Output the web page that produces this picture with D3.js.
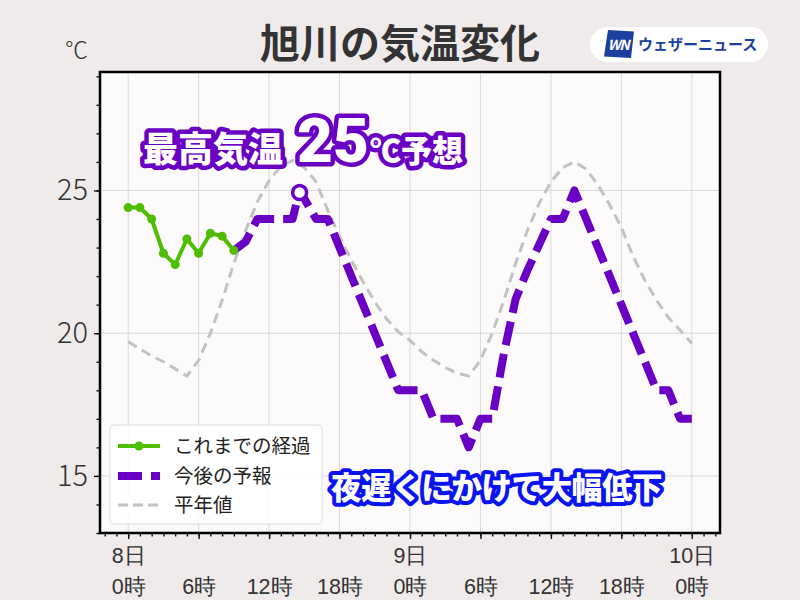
<!DOCTYPE html>
<html>
<head>
<meta charset="utf-8">
<script src="https://cdn.jsdelivr.net/npm/d3@7"></script>
<style>
  html, body { margin: 0; padding: 0; background: #eeebea; }
  body { font-family: "Noto Sans CJK JP", "Noto Sans", sans-serif; }
  .axis path.domain { display: none; }
</style>
</head>
<body>
<div id="chart"></div>
<script>
// observed (hourly, 8日0時 = hour 0)
var obsHours = [0, 1, 2, 3, 4, 5, 6, 7, 8, 9];
var obsTemps = [24.4, 24.4, 24.0, 22.8, 22.4, 23.3, 22.8, 23.5, 23.4, 22.9];

// forecast
var fcHours = [9, 10, 11, 12, 13, 14, 14.6, 16, 17, 18, 19, 20, 21, 22, 23, 24, 25, 26, 27, 28,
  29, 30, 31, 32, 33, 34, 35, 36, 37, 38, 39, 40, 41, 42, 43, 44, 45, 46, 47, 48];
var fcTemps = [22.9, 23.2, 24, 24, 24, 24, 25, 24, 24, 23, 22, 21, 20, 19, 18, 18, 18, 17, 17, 17,
  16, 17, 17, 19.3, 21.2, 22.2, 23.1, 24, 24, 25, 24, 23, 22, 21, 20, 19, 18, 18, 17, 17];

// normal (平年値), hourly 0..48
var normHours = d3.range(0, 49);
var normTemps = [19.7, 19.45, 19.2, 19.0, 18.75, 18.5, 19.05, 20.0, 21.15, 22.45,
  23.6, 24.6, 25.35, 25.85, 26.05, 25.8, 25.3, 24.3, 23.4, 22.55,
  21.8, 21.1, 20.5, 20.05, 19.75, 19.35, 19.05, 18.8, 18.6, 18.5,
  19.05, 20.0, 21.15, 22.45, 23.6, 24.55, 25.3, 25.8, 26.0, 25.75,
  25.2, 24.5, 23.7, 22.7, 21.85, 21.15, 20.55, 20.1, 19.65];

var xTickHours = [0, 6, 12, 18, 24, 30, 36, 42, 48];
var xTickDays = ['8日', '', '', '', '9日', '', '', '', '10日'];
var xTickTimes = ['0時', '6時', '12時', '18時', '0時', '6時', '12時', '18時', '0時'];
var yTicks = [15, 20, 25];
var legendLabels = ['これまでの経過', '今後の予報', '平年値'];

var colors = { obs: '#4fbd00', fc: '#6a00c4', norm: '#c2c2c2' };

var margin = { top: 72, left: 100 };
var width = 620, height = 461;

var root = d3.select('#chart').append('svg')
  .attr('width', 800)
  .attr('height', 600)
  .style('display', 'block');

root.append('rect').attr('width', 800).attr('height', 600).attr('fill', '#eeebea');

var svg = root.append('g')
  .attr('transform', 'translate(' + margin.left + ',' + margin.top + ')');

var x = d3.scaleLinear().domain([-2.4, 50.4]).range([0, width]);
var y = d3.scaleLinear().domain([13.0, 29.15]).range([height, 0]);

svg.append('rect')
  .attr('width', width).attr('height', height)
  .attr('fill', '#fcfafb');

// grid
svg.append('g').selectAll('line.vg')
  .data(xTickHours).enter().append('line')
  .attr('x1', function(d){ return x(d); }).attr('x2', function(d){ return x(d); })
  .attr('y1', 0).attr('y2', height)
  .attr('stroke', '#d9d9d9').attr('stroke-width', 1);
svg.append('g').selectAll('line.hg')
  .data(yTicks).enter().append('line')
  .attr('x1', 0).attr('x2', width)
  .attr('y1', function(d){ return y(d); }).attr('y2', function(d){ return y(d); })
  .attr('stroke', '#d9d9d9').attr('stroke-width', 1);

// axes: minor + major ticks
svg.append('g')
  .attr('class', 'axis')
  .call(d3.axisLeft(y).tickValues(d3.range(13, 30)).tickSize(3.5).tickFormat(''));
var yAxisG = svg.append('g')
  .attr('class', 'axis')
  .call(d3.axisLeft(y).tickValues(yTicks).tickSize(6).tickPadding(6));
yAxisG.selectAll('text')
  .style('font-family', '"Noto Sans CJK JP", sans-serif')
  .style('font-size', '29px')
  .style('font-weight', '300')
  .attr('fill', '#333');

svg.append('g')
  .attr('class', 'axis')
  .attr('transform', 'translate(0,' + height + ')')
  .call(d3.axisBottom(x).tickValues(d3.range(-2, 51)).tickSize(3.5).tickFormat(''));
var xAxisG = svg.append('g')
  .attr('class', 'axis')
  .attr('transform', 'translate(0,' + height + ')')
  .call(d3.axisBottom(x).tickValues(xTickHours).tickSize(6).tickFormat(''));
svg.selectAll('.axis .tick line').attr('stroke', '#111').attr('stroke-width', 1.4);

xAxisG.selectAll('.tick').each(function(d, i){
  var t = d3.select(this);
  t.append('text')
    .attr('y', 30).attr('text-anchor', 'middle')
    .attr('fill', '#333')
    .style('font-size', '21.5px')
    .style('font-weight', '300')
    .text(xTickDays[i]);
  t.append('text')
    .attr('y', 61).attr('text-anchor', 'middle')
    .attr('fill', '#333')
    .style('font-size', '21.5px')
    .style('font-weight', '300')
    .text(xTickTimes[i]);
});

// lines
var line = d3.line()
  .x(function(d){ return x(d[0]); })
  .y(function(d){ return y(d[1]); });

var normData = normHours.map(function(h, i){ return [h, normTemps[i]]; });
var fcData = fcHours.map(function(h, i){ return [h, fcTemps[i]]; });
var obsData = obsHours.map(function(h, i){ return [h, obsTemps[i]]; });

svg.append('path')
  .datum(normData)
  .attr('fill', 'none')
  .attr('stroke', colors.norm)
  .attr('stroke-width', 3)
  .attr('stroke-dasharray', '10,6')
  .attr('d', line);

svg.append('path')
  .datum(fcData)
  .attr('fill', 'none')
  .attr('stroke', colors.fc)
  .attr('stroke-width', 8)
  .attr('stroke-linejoin', 'round')
  .attr('stroke-dasharray', '24,9')
  .attr('d', line);

svg.append('path')
  .datum(obsData)
  .attr('fill', 'none')
  .attr('stroke', colors.obs)
  .attr('stroke-width', 4)
  .attr('stroke-linejoin', 'round')
  .attr('d', line);

svg.append('g').selectAll('circle')
  .data(obsData).enter().append('circle')
  .attr('cx', function(d){ return x(d[0]); })
  .attr('cy', function(d){ return y(d[1]); })
  .attr('r', 4.5)
  .attr('fill', colors.obs);

// max marker (first peak of forecast)
var iMax = d3.maxIndex(fcTemps);
svg.append('circle')
  .attr('cx', x(fcHours[iMax]))
  .attr('cy', y(fcTemps[iMax]) + 2)
  .attr('r', 7)
  .attr('fill', '#fff')
  .attr('stroke', colors.fc)
  .attr('stroke-width', 3.5);

// frame
svg.append('rect')
  .attr('width', width).attr('height', height)
  .attr('fill', 'none')
  .attr('stroke', '#000')
  .attr('stroke-width', 2.5);

// legend
var legend = root.append('g').attr('transform', 'translate(110,425)');
legend.append('rect')
  .attr('width', 212).attr('height', 99)
  .attr('rx', 4).attr('ry', 4)
  .attr('fill', '#ffffff').attr('fill-opacity', 0.85)
  .attr('stroke', '#dcdcdc');

var rowY = [21, 51, 80];
legend.append('line')
  .attr('x1', 8).attr('x2', 50).attr('y1', rowY[0]).attr('y2', rowY[0])
  .attr('stroke', colors.obs).attr('stroke-width', 4);
legend.append('circle')
  .attr('cx', 29).attr('cy', rowY[0]).attr('r', 4.5).attr('fill', colors.obs);
legend.append('line')
  .attr('x1', 8).attr('x2', 50).attr('y1', rowY[1]).attr('y2', rowY[1])
  .attr('stroke', colors.fc).attr('stroke-width', 8).attr('stroke-dasharray', '24,9');
legend.append('line')
  .attr('x1', 8).attr('x2', 50).attr('y1', rowY[2]).attr('y2', rowY[2])
  .attr('stroke', colors.norm).attr('stroke-width', 3).attr('stroke-dasharray', '10,5');

legend.selectAll('text.lab')
  .data(legendLabels).enter().append('text')
  .attr('x', 64)
  .attr('y', function(d, i){ return rowY[i]; })
  .attr('dy', '0.36em')
  .attr('fill', '#222')
  .style('font-size', '19.5px')
  .text(function(d){ return d; });

// title + unit
root.append('text')
  .attr('x', 400).attr('y', 58)
  .attr('text-anchor', 'middle')
  .attr('fill', '#333')
  .style('font-size', '40px')
  .style('font-weight', 'bold')
  .text('旭川の気温変化');

root.append('text')
  .attr('x', 88).attr('y', 58)
  .attr('text-anchor', 'end')
  .attr('fill', '#333')
  .style('font-size', '23px')
  .style('font-weight', '300')
  .text('℃');

// logo
var logo = root.append('g');
logo.append('rect')
  .attr('x', 590).attr('y', 27).attr('width', 178).attr('height', 35)
  .attr('rx', 17.5).attr('fill', '#fff');
logo.append('polygon')
  .attr('points', '608,30 634,31.5 631,58 604,56.5')
  .attr('fill', '#1c3f9e');
logo.append('text')
  .attr('x', 618).attr('y', 50)
  .attr('text-anchor', 'middle')
  .attr('fill', '#fff')
  .style('font-size', '14px')
  .style('font-weight', 'bold')
  .style('font-style', 'italic')
  .style('letter-spacing', '-1.5px')
  .text('WN');
logo.append('text')
  .attr('x', 638).attr('y', 50)
  .attr('fill', '#1c3f9e')
  .style('font-size', '15px')
  .style('font-weight', 'bold')
  .text('ウェザーニュース');

// annotations
var ann1 = root.append('text')
  .attr('x', 143).attr('y', 162)
  .attr('fill', '#fff')
  .attr('stroke', colors.fc)
  .attr('stroke-width', 9)
  .attr('stroke-linejoin', 'round')
  .attr('paint-order', 'stroke fill')
  .style('font-weight', '900');
ann1.append('tspan').style('font-size', '35px').text('最高気温');
ann1.append('tspan').attr('dx', 14).style('font-size', '62px')
  .style('font-family', 'Roboto, "Noto Sans", sans-serif').text('25');
ann1.append('tspan').attr('dx', 1).style('font-size', '31px').text('℃予想');

root.append('text')
  .attr('x', 331).attr('y', 499)
  .attr('fill', '#fff')
  .attr('stroke', '#0a14f0')
  .attr('stroke-width', 8)
  .attr('stroke-linejoin', 'round')
  .attr('paint-order', 'stroke fill')
  .style('font-size', '30.5px')
  .style('font-weight', '900')
  .style('letter-spacing', '-0.4px')
  .text('夜遅くにかけて大幅低下');
</script>
</body>
</html>
